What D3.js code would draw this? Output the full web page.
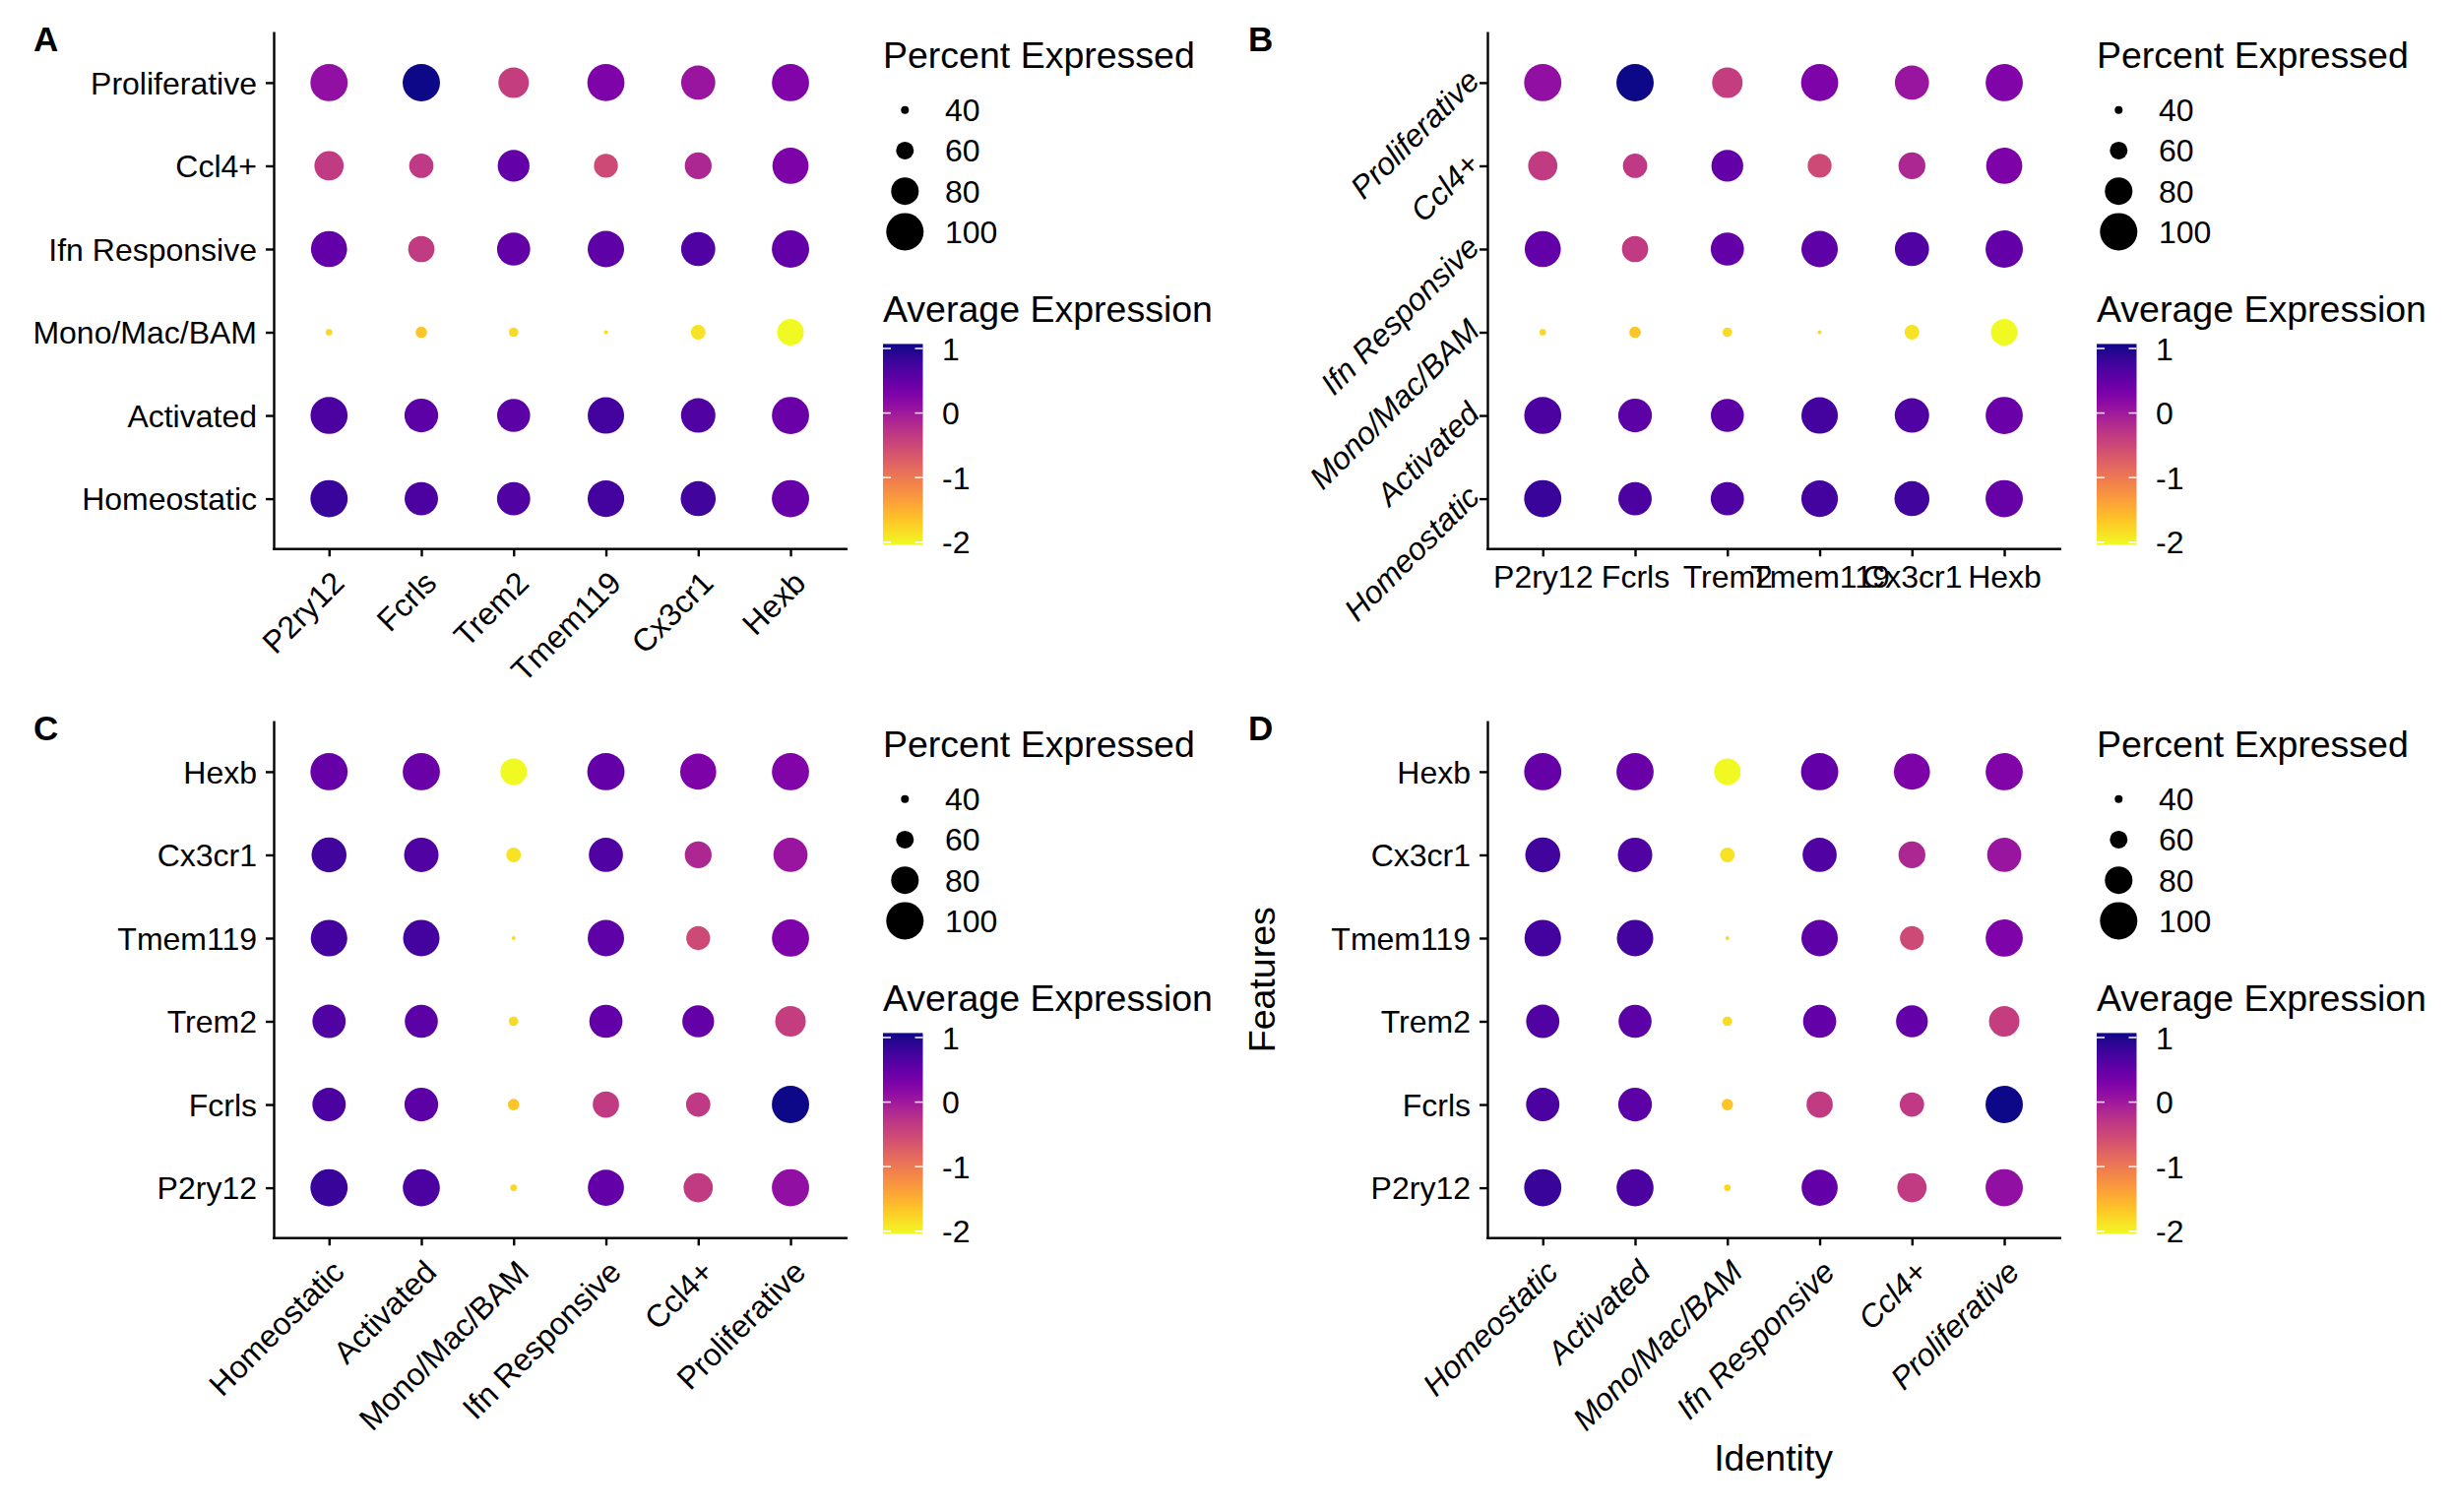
<!DOCTYPE html>
<html><head><meta charset="utf-8">
<script src="https://cdn.jsdelivr.net/npm/d3@7"></script>
<style>
body{margin:0;background:#fff}
svg text{font-family:"Liberation Sans",Arial,Helvetica,sans-serif;fill:#000}
</style>
</head><body>
<svg id="chart" width="2496" height="1536"></svg>
<script>
// ---------------- DATA ----------------
const identities = ["Homeostatic","Activated","Mono/Mac/BAM","Ifn Responsive","Ccl4+","Proliferative"];
const genes = ["P2ry12","Fcrls","Trem2","Tmem119","Cx3cr1","Hexb"];

// Average expression (scaled), one array per identity, in the order of `genes`
const avgHomeostatic   = [0.82, 0.67, 0.64, 0.73, 0.76, 0.48];
const avgActivated     = [0.68, 0.56, 0.56, 0.73, 0.64, 0.46];
const avgMonoMacBAM    = [-1.79, -1.66, -1.82, -1.82, -1.88, -2.04];
const avgIfnResponsive = [0.50, -0.36, 0.50, 0.54, 0.64, 0.50];
const avgCcl4          = [-0.36, -0.33, 0.51, -0.51, -0.14, 0.30];
const avgProliferative = [0.12, 1.07, -0.39, 0.29, 0.05, 0.28];

// Percent expressed, one array per identity, in the order of `genes`
const pctHomeostatic   = [99.6, 91.8, 91.6, 98.3, 95.0, 99.7];
const pctActivated     = [99.3, 92.5, 91.2, 98.1, 94.0, 99.6];
const pctMonoMacBAM    = [37.4, 47.4, 43.4, 32.0, 54.0, 78.0];
const pctIfnResponsive = [97.4, 77.4, 91.4, 98.0, 93.4, 99.8];
const pctCcl4          = [83.4, 73.4, 88.6, 72.6, 78.6, 97.4];
const pctProliferative = [99.8, 99.9, 86.0, 99.5, 93.4, 99.6];

const pctTicks = [40, 60, 80, 100];
const expTicks = [1, 0, -1, -2];
const panelTags = ["A", "B", "C", "D"];

const avgRows = [avgHomeostatic, avgActivated, avgMonoMacBAM, avgIfnResponsive, avgCcl4, avgProliferative];
const pctRows = [pctHomeostatic, pctActivated, pctMonoMacBAM, pctIfnResponsive, pctCcl4, pctProliferative];

const records = [];
identities.forEach((id, i) => genes.forEach((gn, j) => {
  records.push({identity: id, gene: gn, avg: avgRows[i][j], pct: pctRows[i][j]});
}));

// ---------------- SCALES ----------------
const avgExtent = d3.extent(records, d => d.avg);
const color = d3.scaleSequential(d3.interpolatePlasma).domain([avgExtent[1], avgExtent[0]]);
const rScale = d3.scaleLinear().domain([24, 100]).range([0, 19]);

// ---------------- LAYOUT ----------------
const PL = 278, PR = 859.3, PT = 33.2, PB = 557.3;
const FONT_AXIS = 32, FONT_TITLE = 37.5;
const svg = d3.select("#chart");

function drawPanel(cfg) {
  const g = svg.append("g").attr("transform", `translate(${cfg.dx},${cfg.dy})`);
  const x = d3.scalePoint().domain(cfg.xCats).range([PL, PR]).padding(0.6);
  const y = d3.scalePoint().domain(cfg.yCats.slice().reverse()).range([PT, PB]).padding(0.6);

  g.append("g").selectAll("circle").data(records).join("circle")
    .attr("cx", d => x(cfg.xKey(d)))
    .attr("cy", d => y(cfg.yKey(d)))
    .attr("r", d => rScale(d.pct))
    .attr("fill", d => color(d.avg));

  // x axis
  const xa = g.append("g").attr("transform", `translate(0,${PB})`)
    .call(d3.axisBottom(x).tickSize(8).tickSizeOuter(0));
  // y axis
  const ya = g.append("g").attr("transform", `translate(${PL},0)`)
    .call(d3.axisLeft(y).tickSize(8).tickSizeOuter(0));

  [xa, ya].forEach(a => {
    a.attr("font-size", null).attr("font-family", null);
    a.select(".domain").attr("stroke", "#000").attr("stroke-width", 2.4).attr("stroke-linecap", "square");
    a.selectAll(".tick line").attr("stroke", "#000").attr("stroke-width", 2.4);
    a.selectAll(".tick text").style("font-size", FONT_AXIS + "px").attr("fill", "#000");
  });

  if (cfg.xMode === "rot") {
    xa.selectAll(".tick text")
      .attr("x", 0).attr("y", 0).attr("dy", "0.7em")
      .attr("text-anchor", "end")
      .attr("transform", "translate(1,21) rotate(-45)")
      .style("font-style", cfg.xItalic ? "italic" : "normal");
  } else {
    xa.selectAll(".tick text").attr("y", 0).attr("dy", "0").attr("transform", "translate(0,40)")
      .attr("text-anchor", "middle");
  }

  if (cfg.yMode === "rot") {
    ya.selectAll(".tick text")
      .attr("x", 0).attr("y", 0).attr("dy", "0.3em")
      .attr("text-anchor", "end")
      .attr("transform", "translate(-13,-7) rotate(-45)")
      .style("font-style", cfg.yItalic ? "italic" : "normal");
  } else {
    ya.selectAll(".tick text").attr("x", -17).attr("dy", "0.35em").attr("text-anchor", "end");
  }

  // panel tag
  g.append("text").attr("x", cfg.tagX).attr("y", 52)
    .style("font-size", "35px").style("font-weight", "bold").text(cfg.tag);

  // axis titles
  if (cfg.axisTitles) {
    g.append("text").attr("x", (PL + PR) / 2).attr("y", 794)
      .attr("text-anchor", "middle").style("font-size", FONT_TITLE + "px").text("Identity");
    g.append("text").attr("transform", `translate(62,${(PT + PB) / 2}) rotate(-90)`)
      .attr("text-anchor", "middle").style("font-size", FONT_TITLE + "px").text("Features");
  }

  // ---- legends ----
  const lg = g.append("g");
  lg.append("text").attr("x", 897).attr("y", 69).style("font-size", FONT_TITLE + "px").text("Percent Expressed");
  const ky = d3.scalePoint().domain(pctTicks).range([111.7, 235.4]);
  lg.selectAll("circle.key").data(pctTicks).join("circle").attr("class", "key")
    .attr("cx", 919.3).attr("cy", d => ky(d)).attr("r", d => rScale(d)).attr("fill", "#000");
  lg.selectAll("text.klab").data(pctTicks).join("text").attr("class", "klab")
    .attr("x", 960).attr("y", d => ky(d)).attr("dy", "0.36em")
    .style("font-size", FONT_AXIS + "px").text(d => d);

  lg.append("text").attr("x", 897).attr("y", 327).style("font-size", FONT_TITLE + "px").text("Average Expression");
  const gradId = "grad" + cfg.tag;
  const grad = svg.append("defs").append("linearGradient").attr("id", gradId)
    .attr("x1", 0).attr("y1", 1).attr("x2", 0).attr("y2", 0);
  d3.range(0, 1.0001, 0.05).forEach(t => {
    const v = avgExtent[0] + t * (avgExtent[1] - avgExtent[0]);
    grad.append("stop").attr("offset", t).attr("stop-color", color(v));
  });
  const cy = d3.scaleLinear().domain(avgExtent).range([553.4, 349.4]);
  const bx0 = 897, bx1 = 937.5;
  lg.append("rect").attr("x", bx0).attr("y", cy(avgExtent[1])).attr("width", bx1 - bx0)
    .attr("height", cy(avgExtent[0]) - cy(avgExtent[1])).attr("fill", `url(#${gradId})`);
  expTicks.forEach(v => {
    lg.append("line").attr("x1", bx0).attr("x2", bx0 + 8).attr("y1", cy(v)).attr("y2", cy(v))
      .attr("stroke", "#fff").attr("stroke-width", 1.5);
    lg.append("line").attr("x1", bx1 - 8).attr("x2", bx1).attr("y1", cy(v)).attr("y2", cy(v))
      .attr("stroke", "#fff").attr("stroke-width", 1.5);
  });
  lg.selectAll("text.clab").data(expTicks).join("text").attr("class", "clab")
    .attr("x", 957).attr("y", d => cy(d)).attr("dy", "0.36em")
    .style("font-size", FONT_AXIS + "px").text(d => d);
}

const byGene = {xCats: genes, yCats: identities, xKey: d => d.gene, yKey: d => d.identity};
const byId = {xCats: identities, yCats: genes, xKey: d => d.identity, yKey: d => d.gene};

drawPanel(Object.assign({}, byGene, {dx: 0, dy: 0, tag: panelTags[0], tagX: 34, xMode: "rot", yMode: "plain"}));
drawPanel(Object.assign({}, byGene, {dx: 1233, dy: 0, tag: panelTags[1], tagX: 35, xMode: "horiz", yMode: "rot", yItalic: true}));
drawPanel(Object.assign({}, byId, {dx: 0, dy: 700, tag: panelTags[2], tagX: 34, xMode: "rot", yMode: "plain"}));
drawPanel(Object.assign({}, byId, {dx: 1233, dy: 700, tag: panelTags[3], tagX: 35, xMode: "rot", xItalic: true, yMode: "plain", axisTitles: true}));
</script>
</body></html>
